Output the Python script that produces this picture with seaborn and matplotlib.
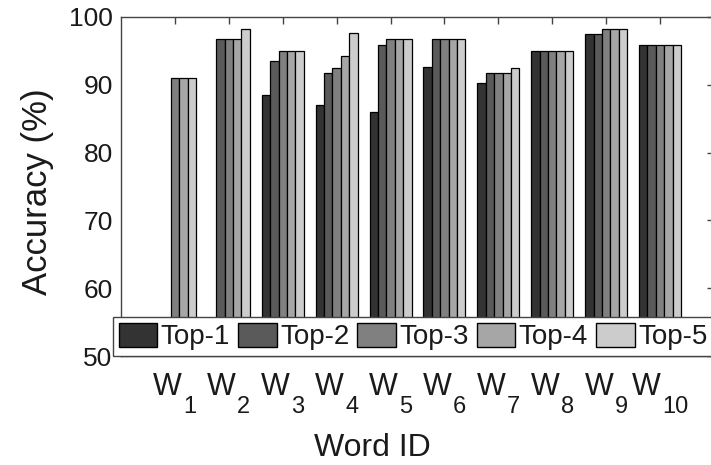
import numpy as np
import pandas as pd
import matplotlib
matplotlib.use("Agg")
import matplotlib.pyplot as plt
from matplotlib.patches import Patch
import seaborn as sns

# Per-word recognition accuracy (%) for Top-k candidates
words = ["W1", "W2", "W3", "W4", "W5", "W6", "W7", "W8", "W9", "W10"]
word_base = "W"
word_index = ["1", "2", "3", "4", "5", "6", "7", "8", "9", "10"]
series = ["Top-1", "Top-2", "Top-3", "Top-4", "Top-5"]
top1 = [np.nan, np.nan, 88.5, 87.0, 86.0, 92.6, 90.2, 95.0, 97.5, 95.8]
top2 = [np.nan, 96.8, 93.5, 91.8, 95.8, 96.8, 91.8, 95.0, 97.5, 95.8]
top3 = [91.0, 96.8, 95.0, 92.5, 96.8, 96.8, 91.8, 95.0, 98.3, 95.8]
top4 = [91.0, 96.8, 95.0, 94.3, 96.8, 96.8, 91.8, 95.0, 98.3, 95.8]
top5 = [91.0, 98.3, 95.0, 97.6, 96.8, 96.8, 92.5, 95.0, 98.3, 95.8]
yticks = [50, 60, 70, 80, 90, 100]
colors = ["#333333", "#5a5a5a", "#808080", "#a6a6a6", "#cccccc"]

df = pd.DataFrame({
    "word": np.tile(words, len(series)),
    "rank": np.repeat(series, len(words)),
    "acc": np.concatenate([top1, top2, top3, top4, top5]),
})

sns.set_style("white")
plt.rcParams["font.family"] = ["Liberation Sans", "DejaVu Sans"]
text_color = "#1a1a1a"

fig = plt.figure(figsize=(7.11, 4.65), dpi=100)
ax = fig.add_axes([121 / 711, 1 - 356 / 465, (714 - 121) / 711, (356 - 17) / 465])

sns.barplot(data=df, x="word", y="acc", hue="rank", order=words,
            hue_order=series, palette=colors, width=0.78, gap=0,
            errorbar=None, edgecolor="black", linewidth=0.9,
            legend=False, ax=ax)

ax.set_ylim(50, 100)
ax.set_xlim(-1, 10)
ax.set_yticks(yticks)
ax.set_xticks(range(len(words)))
ax.set_xticklabels([])
ax.tick_params(axis="both", direction="in", length=5, width=1,
               color="#444444", top=True, right=True, labelcolor=text_color)
ax.tick_params(axis="y", labelsize=19, pad=6)
for s in ax.spines.values():
    s.set_color("#444444")
    s.set_linewidth(1.0)

# Word tick labels: "W" with a dropped index, centred as a group on each tick
w_size, sub_size = 22, 17
w_adv = 0.944 * w_size
digit_adv = 0.556 * sub_size
for i, idx in enumerate(word_index):
    group = w_adv + 1.0 + len(idx) * digit_adv
    w_right = -group / 2 + w_adv
    ax.annotate(word_base, xy=(i, 0), xycoords=ax.get_xaxis_transform(),
                xytext=(w_right, -28), textcoords="offset points",
                ha="right", va="baseline", fontsize=w_size, color=text_color,
                annotation_clip=False)
    ax.annotate(idx, xy=(i, 0), xycoords=ax.get_xaxis_transform(),
                xytext=(w_right + 1.0, -41), textcoords="offset points",
                ha="left", va="baseline", fontsize=sub_size, color=text_color,
                annotation_clip=False)

ax.set_xlabel("Word ID", fontsize=23, color=text_color, va="top")
ax.xaxis.set_label_coords((372 - 121) / 593, (356 - 433) / 339)
ax.set_ylabel("Accuracy (%)", fontsize=25, color=text_color)
ax.yaxis.set_label_coords((54 - 121) / 593, (356 - 192) / 339)

handles = [Patch(facecolor=c, edgecolor="black", linewidth=1.0) for c in colors]
leg = fig.legend(handles, series, loc="lower left", ncol=5,
                 bbox_to_anchor=(113 / 711, 1 - 356 / 465),
                 fontsize=20, frameon=True, fancybox=False,
                 handlelength=1.4, handleheight=0.95, handletextpad=0.12,
                 columnspacing=0.28, borderpad=0.2, borderaxespad=0.0,
                 labelspacing=0.2)
leg.get_frame().set_edgecolor("#444444")
leg.get_frame().set_linewidth(1.0)
leg.get_frame().set_alpha(1.0)
for t in leg.get_texts():
    t.set_color(text_color)

fig.savefig("out.png", dpi=100)
